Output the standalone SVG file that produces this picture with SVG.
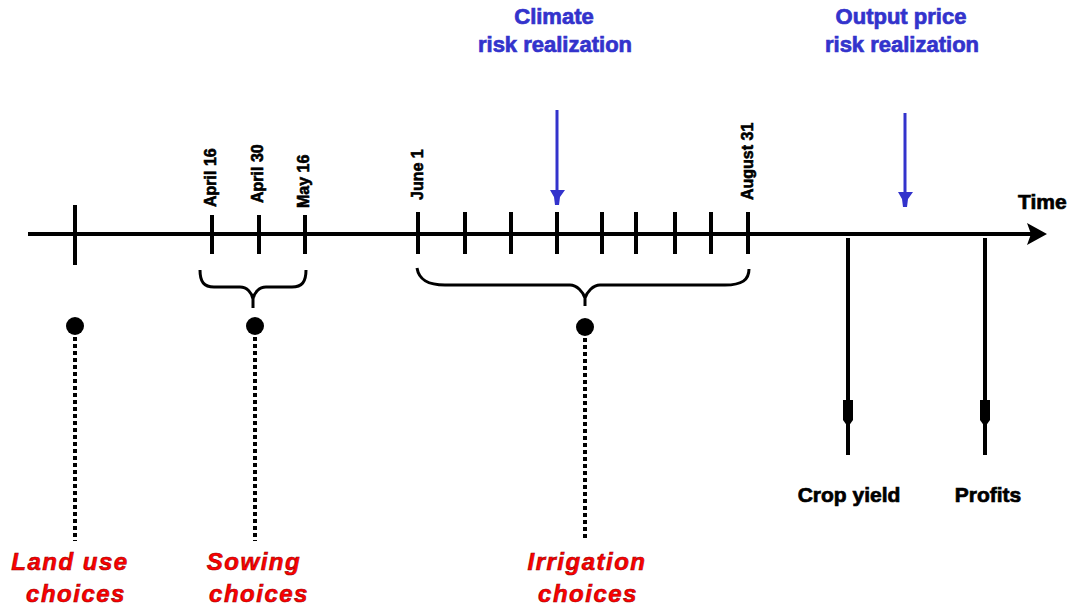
<svg xmlns="http://www.w3.org/2000/svg" width="1079" height="610" viewBox="0 0 1079 610">
<style>
.axis{stroke:#000;stroke-width:4;fill:none}
.tick{stroke:#000;stroke-width:4}
.brace{stroke:#000;stroke-width:3;fill:none;stroke-linejoin:round}
.dots{stroke:#000;stroke-width:4;stroke-dasharray:4 3}
.date{font-family:"Liberation Sans",Arial,sans-serif;font-weight:bold;font-size:16px;fill:#000;stroke:#000;stroke-width:0.6}
.blue{font-family:"Liberation Sans",Arial,sans-serif;font-weight:bold;font-size:22px;fill:#3333CC;stroke:#3333CC;stroke-width:0.7;text-anchor:middle}
.red{font-family:"Liberation Sans",Arial,sans-serif;font-weight:bold;font-style:italic;font-size:24px;fill:#FF0000;stroke:#990000;stroke-width:0.6;letter-spacing:1.5px;text-anchor:middle}
.out{font-family:"Liberation Sans",Arial,sans-serif;font-weight:bold;font-size:21px;fill:#000;stroke:#000;stroke-width:0.7;text-anchor:middle}
.barrow{stroke:#3333CC;stroke-width:3}
.karrow{stroke:#000;stroke-width:4}
</style>
<g id="timeline">
<line class="axis" x1="28" y1="234" x2="1032" y2="234"/>
<polygon points="1027,223 1047,234 1027,245 1031,234" fill="#000"/>
<text x="1018" y="209" style="font-family:'Liberation Sans',Arial,sans-serif;font-weight:bold;font-size:21px;stroke:#000;stroke-width:0.7">Time</text>
</g>
<g id="ticks">
<line class="tick" x1="75" y1="205" x2="75" y2="265"/>
<line class="tick" x1="212" y1="215" x2="212" y2="254"/>
<line class="tick" x1="259" y1="215" x2="259" y2="254"/>
<line class="tick" x1="305" y1="215" x2="305" y2="254"/>
<line class="tick" x1="418" y1="212" x2="418" y2="254"/>
<line class="tick" x1="465" y1="212" x2="465" y2="254"/>
<line class="tick" x1="511" y1="212" x2="511" y2="254"/>
<line class="tick" x1="557" y1="212" x2="557" y2="254"/>
<line class="tick" x1="602" y1="212" x2="602" y2="254"/>
<line class="tick" x1="636" y1="212" x2="636" y2="254"/>
<line class="tick" x1="675" y1="212" x2="675" y2="254"/>
<line class="tick" x1="711" y1="212" x2="711" y2="254"/>
<line class="tick" x1="748" y1="212" x2="748" y2="254"/>
</g>
<g id="dates">
<text class="date" transform="translate(216,207) rotate(-90)">April 16</text>
<text class="date" transform="translate(263,203) rotate(-90)">April 30</text>
<text class="date" transform="translate(309,208) rotate(-90)">May 16</text>
<text class="date" transform="translate(423,200) rotate(-90)">June 1</text>
<text class="date" transform="translate(753,200) rotate(-90)">August 31</text>
</g>
<g id="climate-risk">
<text class="blue" x="554" y="24">Climate</text>
<text class="blue" x="555" y="52">risk realization</text>
</g>
<g id="price-risk">
<text class="blue" x="901" y="24">Output price</text>
<text class="blue" x="902" y="52">risk realization</text>
</g>
<g id="land-use">
<circle cx="75" cy="326" r="9" fill="#000"/>
<text class="red" x="70" y="570">Land use</text>
<text class="red" x="76" y="602">choices</text>
</g>
<g id="sowing">
<path class="brace" d="M200,270 C200,282 204,287 214,287 L240,287 C247,287 252,293 253,299 C254,293 259,287 266,287 L292,287 C302,287 306,282 306,270 M253,299 L253,308"/>
<circle cx="255" cy="326" r="9" fill="#000"/>
<text class="red" x="254" y="570">Sowing</text>
<text class="red" x="259" y="602">choices</text>
</g>
<g id="irrigation">
<path class="brace" d="M417,268 C419,280 428,285 445,285 L570,285 C577,285 583,292 585,298 C587,292 593,285 600,285 L725,285 C742,285 749,280 749,269 M585,298 L585,306"/>
<circle cx="585" cy="327" r="9" fill="#000"/>
<text class="red" x="587" y="570">Irrigation</text>
<text class="red" x="588" y="602">choices</text>
</g>
<g id="crop-yield">
<text class="out" x="849" y="502">Crop yield</text>
</g>
<g id="profits">
<text class="out" x="988" y="502">Profits</text>
</g>
<g id="connectors">
<line class="dots" x1="75" y1="337" x2="75" y2="541"/>
<line class="dots" x1="255" y1="337" x2="255" y2="541"/>
<line class="dots" x1="585" y1="338" x2="585" y2="541"/>
<line class="barrow" x1="557" y1="110" x2="557" y2="192"/>
<polygon points="550,190 565,190 560,197 559,205 555,205 554,197" fill="#3333CC"/>
<line class="barrow" x1="905" y1="113" x2="905" y2="194"/>
<polygon points="898,192 913,192 908,199 907,207 903,207 902,199" fill="#3333CC"/>
<line class="karrow" x1="848" y1="238" x2="848" y2="455"/>
<polygon points="843,400 853,400 853,420 848,427 843,420" fill="#000"/>
<line class="karrow" x1="985" y1="238" x2="985" y2="455"/>
<polygon points="980,400 990,400 990,420 985,427 980,420" fill="#000"/>
</g>
</svg>
